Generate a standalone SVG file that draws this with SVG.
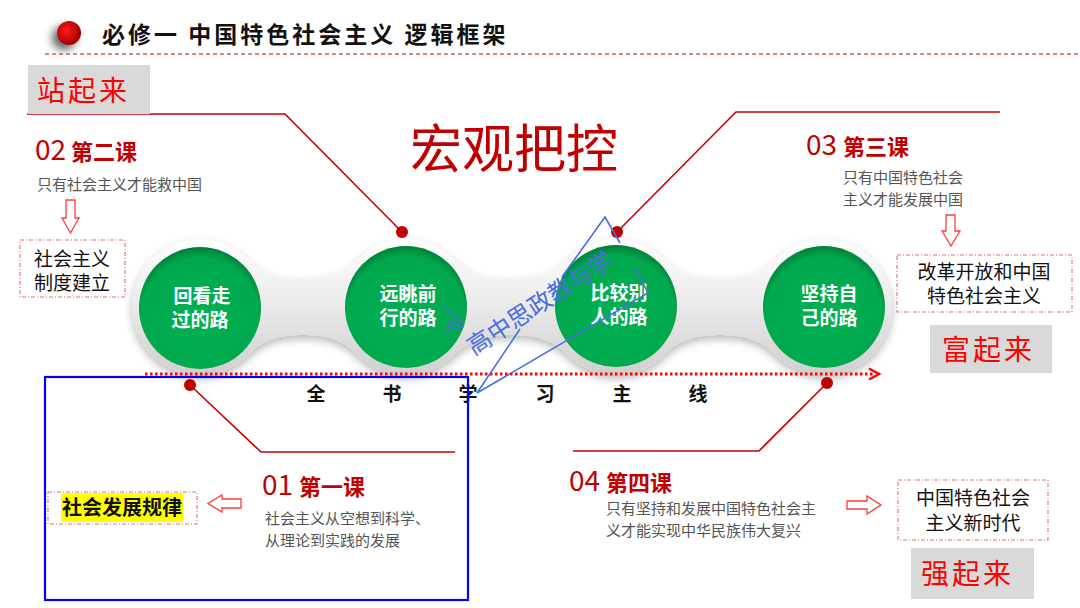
<svg xmlns="http://www.w3.org/2000/svg" width="1080" height="608" viewBox="0 0 1080 608">
<defs>
<style>
.cjk{font-family:"Noto Sans CJK SC","Noto Sans",sans-serif}
.title{font-size:23px;font-weight:bold;fill:#111;letter-spacing:3px}
.redline{fill:none;stroke:#c80000;stroke-width:1.6}
.dot{fill:#c00000}
.num{font-size:28px;fill:#c00000}
.lesson{font-size:22px;font-weight:bold;fill:#c00000}
.desc{font-size:15px;fill:#555}
.dbox{fill:#fff;stroke:#e07070;stroke-width:1.1;stroke-dasharray:4 2 1 2}
.boxtext{font-size:19px;fill:#111}
.gbox{fill:#d9d9d9}
.slogan{font-size:28px;fill:#ff0000;letter-spacing:3px}
.harrow{fill:#fff;stroke:#ff3b3b;stroke-width:1.3}
.ctext{font-size:19px;font-weight:bold;fill:#fff;text-anchor:middle}
.main{font-size:19px;font-weight:bold;fill:#111;text-anchor:middle}
.blue{fill:none;stroke:#4a6ee0;stroke-width:1.6}
</style>
<linearGradient id="pillG" x1="0" y1="0" x2="0" y2="1">
<stop offset="0" stop-color="#ffffff"/>
<stop offset="0.45" stop-color="#ececec"/>
<stop offset="1" stop-color="#cfcfcf"/>
</linearGradient>
<radialGradient id="greenG" cx="0.5" cy="0.56" r="0.56" fx="0.5" fy="0.62">
<stop offset="0" stop-color="#00b152"/>
<stop offset="0.86" stop-color="#00a84e"/>
<stop offset="1" stop-color="#007f38"/>
</radialGradient>
<radialGradient id="redDot" cx="0.4" cy="0.4" r="0.6">
<stop offset="0" stop-color="#ff1a1a"/>
<stop offset="1" stop-color="#a00000"/>
</radialGradient>
<filter id="shadow" x="-10%" y="-20%" width="120%" height="150%">
<feDropShadow dx="0" dy="4" stdDeviation="4" flood-color="#000" flood-opacity="0.28"/>
</filter>
<filter id="dotShadow" x="-100%" y="-100%" width="300%" height="300%">
<feDropShadow dx="-5" dy="5" stdDeviation="4" flood-color="#000" flood-opacity="0.6"/>
</filter>
</defs>
<rect width="1080" height="608" fill="#fff"/>

<g id="header">
<circle cx="69" cy="33" r="12" fill="url(#redDot)" filter="url(#dotShadow)"/>
<text class="cjk title" x="102" y="43">必修一 中国特色社会主义 逻辑框架</text>
<line x1="45" y1="54" x2="1080" y2="54" stroke="#e05a5a" stroke-width="1.3" stroke-dasharray="4 3"/>
</g>

<g id="title-main">
<text class="cjk" x="410" y="168" font-size="52" fill="#c00000">宏观把控</text>
</g>

<g id="pill">
<path filter="url(#shadow)" fill="url(#pillG)" d="M132,307 A68,68 0 0 1 248,259 C263,274 278,279 303,279 C328,279 343,274 358,259 A68,68 0 0 1 454,259 C469,274 486,279 511,279 C536,279 553,274 568,259 A68,68 0 0 1 664,259 C679,274 695,279 720,279 C745,279 761,274 776,259 A68,68 0 0 1 892,307 A68,68 0 0 1 776,355 C761,340 745,335 720,335 C695,335 679,340 664,355 A68,68 0 0 1 568,355 C553,340 536,335 511,335 C486,335 469,340 454,355 A68,68 0 0 1 358,355 C343,340 328,335 303,335 C278,335 263,340 248,355 A68,68 0 0 1 132,307 Z"/>
</g>

<g id="node-1">
<circle cx="200" cy="308" r="61" fill="url(#greenG)"/>
<text class="cjk ctext" x="202" y="303">回看走</text>
<text class="cjk ctext" x="200" y="327">过的路</text>
</g>
<g id="node-2">
<circle cx="406" cy="307" r="61" fill="url(#greenG)"/>
<text class="cjk ctext" x="408" y="301">远眺前</text>
<text class="cjk ctext" x="408" y="325">行的路</text>
</g>
<g id="node-3">
<circle cx="616" cy="306" r="61" fill="url(#greenG)"/>
<text class="cjk ctext" x="619" y="300">比较别</text>
<text class="cjk ctext" x="619" y="324">人的路</text>
</g>
<g id="node-4">
<circle cx="824" cy="307" r="61" fill="url(#greenG)"/>
<text class="cjk ctext" x="829" y="301">坚持自</text>
<text class="cjk ctext" x="829" y="325">己的路</text>
</g>

<g id="main-line">
<line x1="145" y1="374" x2="874" y2="374" stroke="#ff0000" stroke-width="3" stroke-dasharray="2.5 2.5"/>
<polyline points="869,368.5 879,374 869,379.5" fill="none" stroke="#ff0000" stroke-width="2.5"/>
<text class="cjk main" x="316" y="401">全</text>
<text class="cjk main" x="392" y="401">书</text>
<text class="cjk main" x="468" y="401">学</text>
<text class="cjk main" x="545" y="401">习</text>
<text class="cjk main" x="622" y="401">主</text>
<text class="cjk main" x="698" y="401">线</text>
</g>

<g id="connectors">
<polyline class="redline" points="27,114 285,114 402,232"/>
<circle class="dot" cx="402" cy="232" r="6"/>
<polyline class="redline" points="617,232 736,112 1000,112"/>
<circle class="dot" cx="617" cy="232" r="6"/>
<polyline class="redline" points="190,385 261,452 455,452"/>
<circle class="dot" cx="190" cy="385" r="6"/>
<polyline class="redline" points="827,383 759,451 573,451"/>
<circle class="dot" cx="827" cy="383" r="6"/>
<polygon class="harrow" points="66,200 75,200 75,218 79,218 70.5,233 62,218 66,218"/>
<polygon class="harrow" points="946,215 955,215 955,231 960,231 951,246 942,231 946,231"/>
<polygon class="harrow" points="241,499 222,499 222,495 208,503.5 222,512 222,508 241,508"/>
<polygon class="harrow" points="847,501 867,501 867,496 881,505 867,514 867,509 847,509"/>
</g>

<g id="lesson-02">
<rect class="gbox" x="28" y="65" width="122" height="49"/>
<text class="cjk slogan" x="37" y="101">站起来</text>
<text class="cjk num" x="35" y="160">02</text>
<text class="cjk lesson" x="71" y="160">第二课</text>
<text class="cjk desc" x="37" y="190">只有社会主义才能救中国</text>
<rect class="dbox" x="20" y="240" width="105" height="57"/>
<text class="cjk boxtext" x="34" y="266">社会主义</text>
<text class="cjk boxtext" x="34" y="290">制度建立</text>
</g>

<g id="lesson-03">
<text class="cjk num" x="806" y="155">03</text>
<text class="cjk lesson" x="843" y="155">第三课</text>
<text class="cjk desc" x="843" y="183">只有中国特色社会</text>
<text class="cjk desc" x="843" y="205">主义才能发展中国</text>
<rect class="dbox" x="897" y="255" width="175" height="57"/>
<text class="cjk boxtext" x="984" y="279" text-anchor="middle">改革开放和中国</text>
<text class="cjk boxtext" x="984" y="303" text-anchor="middle">特色社会主义</text>
<rect class="gbox" x="930" y="325" width="122" height="48"/>
<text class="cjk slogan" x="942" y="360">富起来</text>
</g>

<g id="lesson-01">
<text class="cjk num" x="262" y="495" font-size="26">01</text>
<text class="cjk lesson" x="299" y="495">第一课</text>
<text class="cjk desc" x="265" y="524">社会主义从空想到科学、</text>
<text class="cjk desc" x="265" y="546">从理论到实践的发展</text>
<rect class="dbox" x="48" y="492" width="149" height="32"/>
<rect x="61" y="493" width="122" height="29" fill="#ffff00"/>
<text class="cjk" x="122" y="515" font-size="20" font-weight="bold" fill="#111" text-anchor="middle">社会发展规律</text>
</g>

<g id="lesson-04">
<text class="cjk num" x="569" y="491">04</text>
<text class="cjk lesson" x="606" y="491">第四课</text>
<text class="cjk desc" x="606" y="514">只有坚持和发展中国特色社会主</text>
<text class="cjk desc" x="606" y="536">义才能实现中华民族伟大复兴</text>
<rect class="dbox" x="898" y="480" width="150" height="60"/>
<text class="cjk boxtext" x="973" y="505" text-anchor="middle">中国特色社会</text>
<text class="cjk boxtext" x="973" y="530" text-anchor="middle">主义新时代</text>
<rect class="gbox" x="911" y="548" width="123" height="51"/>
<text class="cjk slogan" x="921" y="584">强起来</text>
</g>

<g id="annotations">
<rect x="45" y="377" width="423" height="223" fill="none" stroke="#0000ff" stroke-width="2.2"/>
<polyline class="blue" points="562,277 605,217 620,243"/>
<polyline class="blue" points="520,329 477,393 648,293 635,268"/>
<polyline class="blue" points="444,306 464,324"/>
<polygon class="blue" points="447,330 462,327 450,320"/>
<text class="cjk" x="0" y="0" font-size="24" fill="#4a6ee0" transform="translate(474,356) rotate(-33)">高中思政教与学</text>
</g>
</svg>
